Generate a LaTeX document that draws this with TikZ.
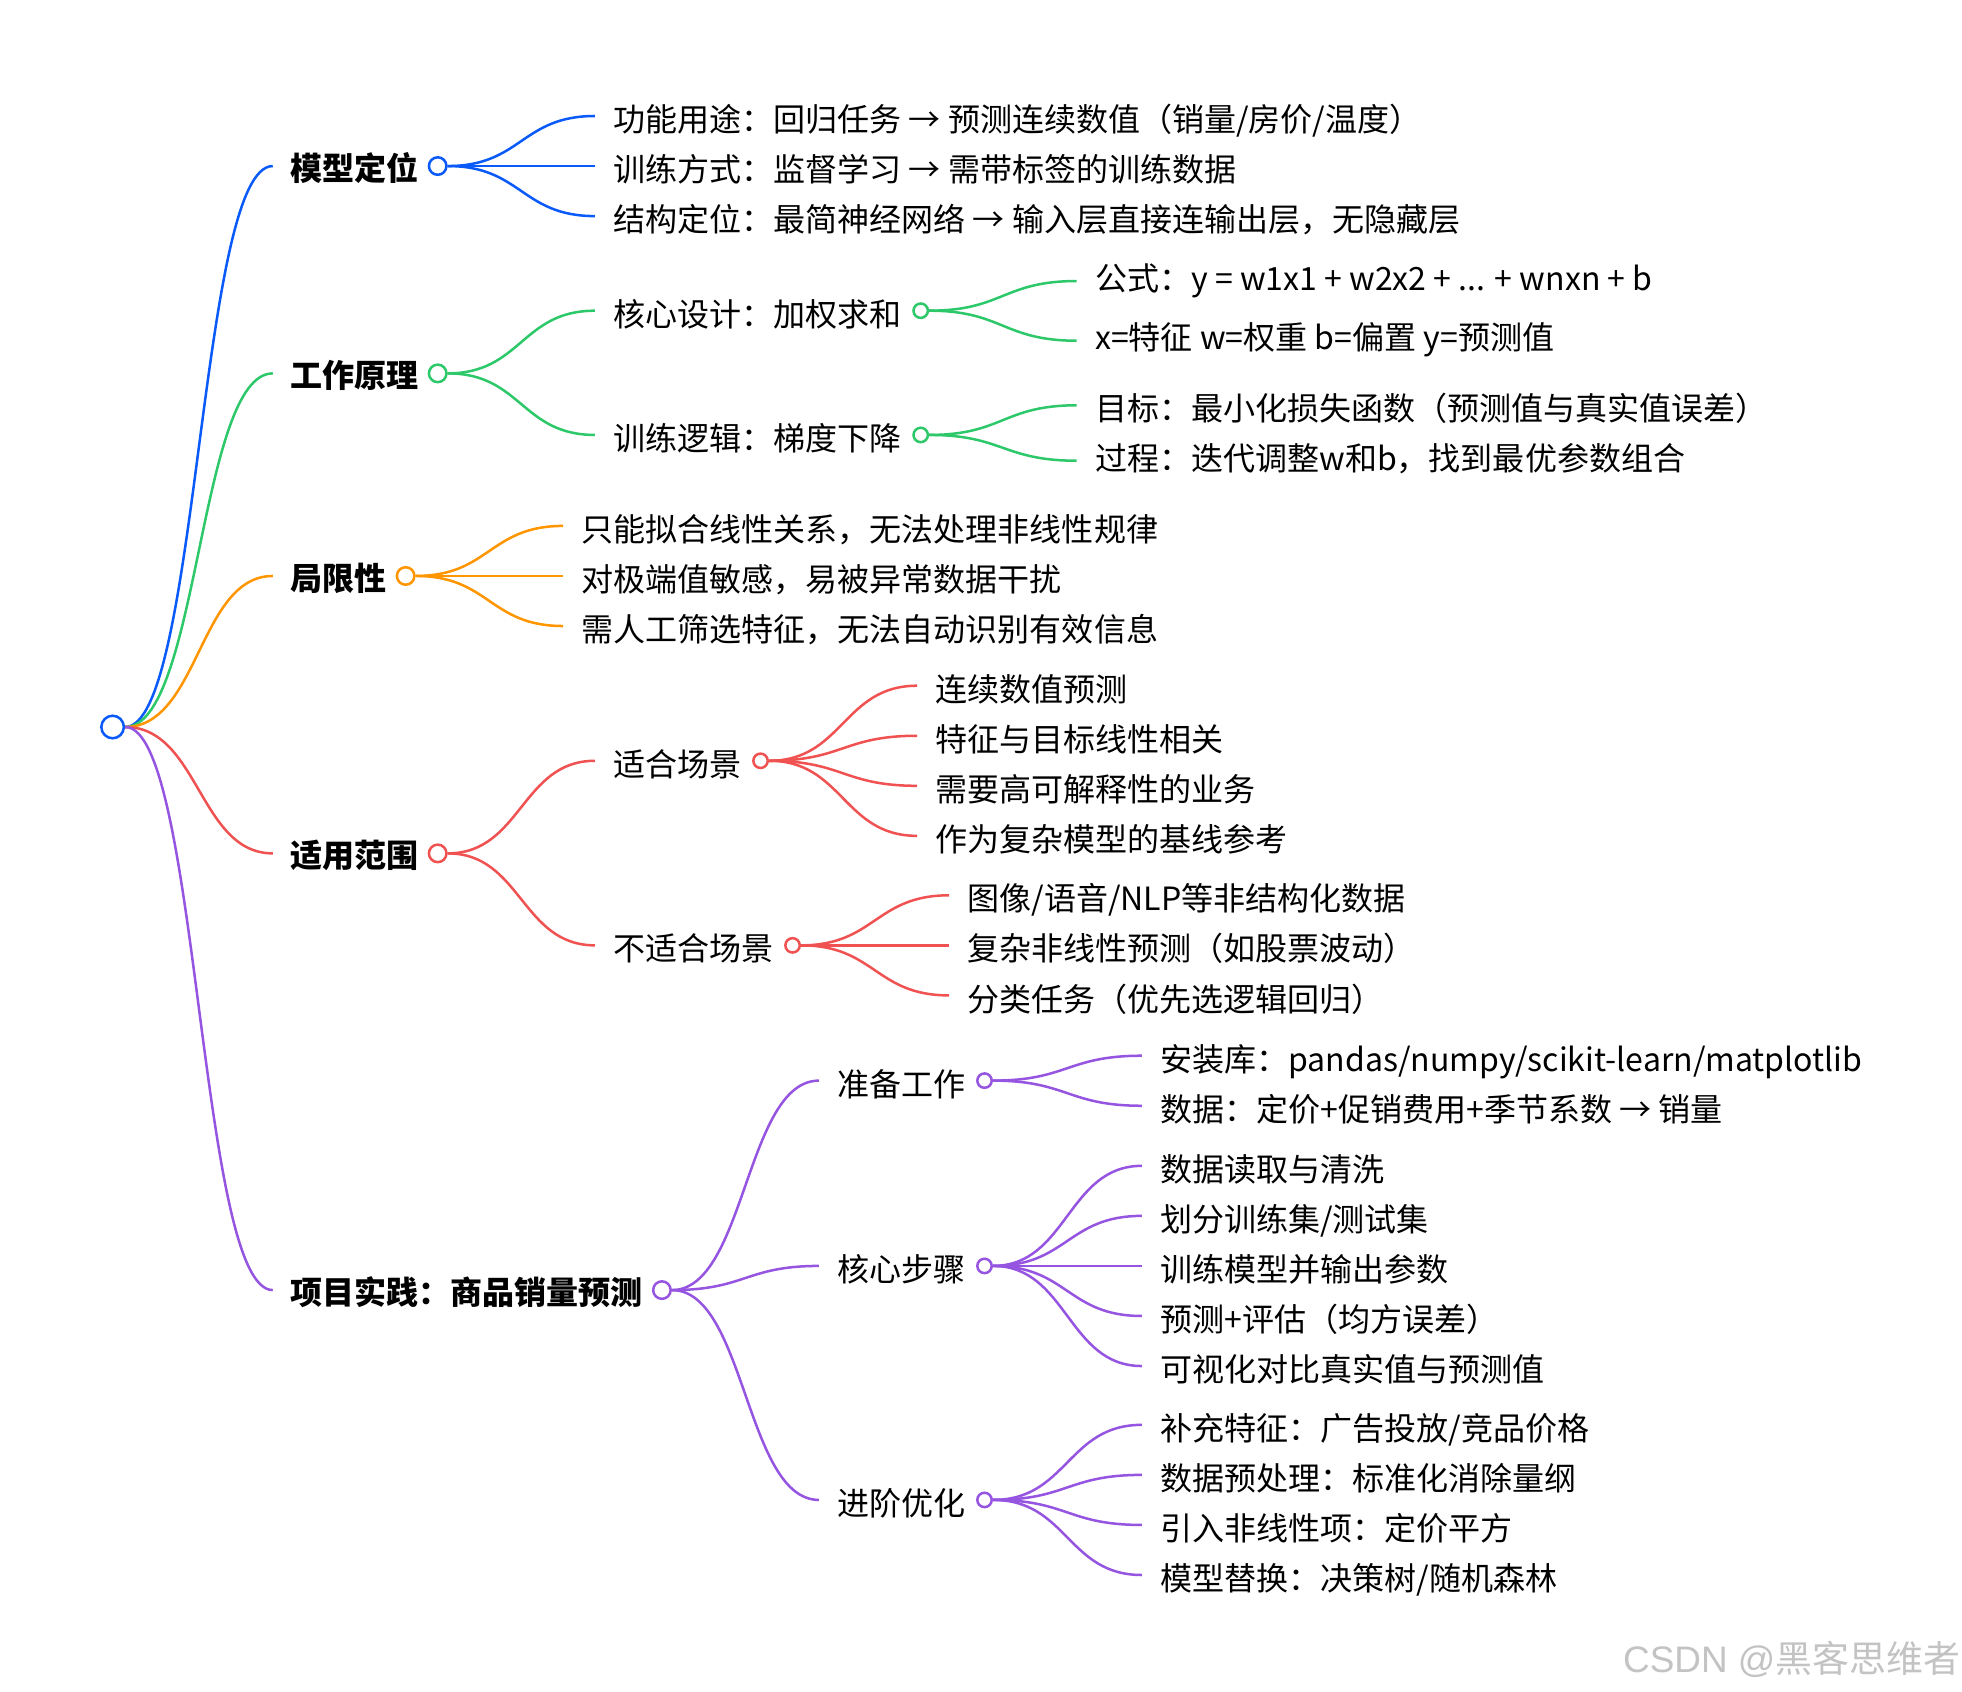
\documentclass[tikz,border=0pt]{standalone}
\usepackage{fontspec}
\setmainfont{Noto Sans CJK SC}
\newfontfamily\wmfont{Liberation Sans}
\usetikzlibrary{calc}
\definecolor{cblue}{RGB}{10,90,250}
\definecolor{cgreen}{RGB}{45,200,105}
\definecolor{corange}{RGB}{255,150,0}
\definecolor{cred}{RGB}{240,82,82}
\definecolor{cpurple}{RGB}{150,85,225}
\definecolor{wmgray}{RGB}{195,195,195}
\newcommand\mmlink[3]{\draw[linkline=#1] let \p1=(#2), \p2=(#3) in (\p1) .. controls ({(\x1+\x2)/2},\y1) and ({(\x1+\x2)/2},\y2) .. (\p2);}
\begin{document}
\begin{tikzpicture}[x=1pt,y=-1pt,
  txt/.style={anchor=west,inner sep=0pt,text height=27pt,text depth=2pt,font=\fontsize{25.6}{30}\selectfont},
  topic/.style={txt,text height=25pt,text depth=2pt,font=\fontsize{25.6}{30}\selectfont\bfseries},
  knot/.style={circle,draw=#1,fill=white,line width=2pt,minimum size=11.5pt,inner sep=0pt},
  bigknot/.style={knot=#1,minimum size=14pt},
  linkline/.style={draw=#1,line width=2pt}]
\path[use as bounding box, fill=white] (0,0) rectangle (1568,1352);

\node[knot=cblue, minimum size=18pt] (root) at (90,581) {};

% level 1
\node[topic] (m) at (232,132.7) {模型定位};
\node[bigknot=cblue] (mk) at ($(m.east)+(15,0)$) {};
\node[topic] (w) at (232,298.4) {工作原理};
\node[bigknot=cgreen] (wk) at ($(w.east)+(15,0)$) {};
\node[topic] (j) at (232,460.3) {局限性};
\node[bigknot=corange] (jk) at ($(j.east)+(15,0)$) {};
\node[topic] (s) at (232,682) {适用范围};
\node[bigknot=cred] (sk) at ($(s.east)+(15,0)$) {};
\node[topic] (p) at (232,1031) {项目实践：商品销量预测};
\node[bigknot=cpurple] (pk) at ($(p.east)+(15,0)$) {};

\mmlink{cblue}{root.east}{[xshift=-14pt]m.west}
\mmlink{cgreen}{root.east}{[xshift=-14pt]w.west}
\mmlink{corange}{root.east}{[xshift=-14pt]j.west}
\mmlink{cred}{root.east}{[xshift=-14pt]s.west}
\mmlink{cpurple}{root.east}{[xshift=-14pt]p.west}

% 模型定位
\node[txt] (m1) at (490,92.7) {功能用途：回归任务 → 预测连续数值（销量/房价/温度）};
\node[txt] (m2) at (490,132.7) {训练方式：监督学习 → 需带标签的训练数据};
\node[txt] (m3) at (490,172.7) {结构定位：最简神经网络 → 输入层直接连输出层，无隐藏层};
\foreach \q in {m1,m2,m3} {\mmlink{cblue}{mk.east}{[xshift=-14.5pt]\q.west}}

% 工作原理
\node[txt] (w1) at (490,248.3) {核心设计：加权求和};
\node[knot=cgreen] (w1k) at ($(w1.east)+(15,0)$) {};
\node[txt] (w11) at (875,219.4) {公式：y = w1x1 + w2x2 + ... + wnxn + b};
\node[txt] (w12) at (875,266.9) {x=特征 w=权重 b=偏置 y=预测值};
\node[txt] (w2) at (490,347.6) {训练逻辑：梯度下降};
\node[knot=cgreen] (w2k) at ($(w2.east)+(15,0)$) {};
\node[txt] (w21) at (875,323.3) {目标：最小化损失函数（预测值与真实值误差）};
\node[txt] (w22) at (875,363.3) {过程：迭代调整w和b，找到最优参数组合};
\foreach \q in {w1,w2} {\mmlink{cgreen}{wk.east}{[xshift=-14.5pt]\q.west}}
\mmlink{cgreen}{w1k.east}{[xshift=-14.5pt,yshift=-5.2pt]w11.west}
\mmlink{cgreen}{w1k.east}{[xshift=-14.5pt,yshift=-5.4pt]w12.west}
\mmlink{cgreen}{w2k.east}{[xshift=-14.5pt,yshift=-0.6pt]w21.west}
\mmlink{cgreen}{w2k.east}{[xshift=-14.5pt,yshift=-4.9pt]w22.west}

% 局限性
\node[txt] (j1) at (464.5,420.3) {只能拟合线性关系，无法处理非线性规律};
\node[txt] (j2) at (464.5,460.3) {对极端值敏感，易被异常数据干扰};
\node[txt] (j3) at (464.5,500.3) {需人工筛选特征，无法自动识别有效信息};
\foreach \q in {j1,j2,j3} {\mmlink{corange}{jk.east}{[xshift=-14.5pt]\q.west}}

% 适用范围
\node[txt] (s1) at (490,608) {适合场景};
\node[knot=cred] (s1k) at ($(s1.east)+(15,0)$) {};
\node[txt] (s11) at (747.5,548) {连续数值预测};
\node[txt] (s12) at (747.5,588) {特征与目标线性相关};
\node[txt] (s13) at (747.5,628) {需要高可解释性的业务};
\node[txt] (s14) at (747.5,668) {作为复杂模型的基线参考};
\node[txt] (s2) at (490,755.5) {不适合场景};
\node[knot=cred] (s2k) at ($(s2.east)+(15,0)$) {};
\node[txt] (s21) at (773,715.5) {图像/语音/NLP等非结构化数据};
\node[txt] (s22) at (773,755.5) {复杂非线性预测（如股票波动）};
\node[txt] (s23) at (773,795.5) {分类任务（优先选逻辑回归）};
\foreach \q in {s1,s2} {\mmlink{cred}{sk.east}{[xshift=-14.5pt]\q.west}}
\foreach \q in {s11,s12,s13,s14} {\mmlink{cred}{s1k.east}{[xshift=-14.5pt]\q.west}}
\foreach \q in {s21,s22,s23} {\mmlink{cred}{s2k.east}{[xshift=-14.5pt]\q.west}}

% 项目实践
\node[txt] (p1) at (669,863.6) {准备工作};
\node[knot=cpurple] (p1k) at ($(p1.east)+(15,0)$) {};
\node[txt] (p11) at (927,843.7) {安装库：pandas/numpy/scikit-learn/matplotlib};
\node[txt] (p12) at (927,883.7) {数据：定价+促销费用+季节系数 → 销量};
\node[txt] (p2) at (669,1011.7) {核心步骤};
\node[knot=cpurple] (p2k) at ($(p2.east)+(15,0)$) {};
\node[txt] (p21) at (927,931.7) {数据读取与清洗};
\node[txt] (p22) at (927,971.7) {划分训练集/测试集};
\node[txt] (p23) at (927,1011.7) {训练模型并输出参数};
\node[txt] (p24) at (927,1051.7) {预测+评估（均方误差）};
\node[txt] (p25) at (927,1091.7) {可视化对比真实值与预测值};
\node[txt] (p3) at (669,1198.7) {进阶优化};
\node[knot=cpurple] (p3k) at ($(p3.east)+(15,0)$) {};
\node[txt] (p31) at (927,1138.7) {补充特征：广告投放/竞品价格};
\node[txt] (p32) at (927,1178.7) {数据预处理：标准化消除量纲};
\node[txt] (p33) at (927,1218.7) {引入非线性项：定价平方};
\node[txt] (p34) at (927,1258.7) {模型替换：决策树/随机森林};
\foreach \q in {p1,p2,p3} {\mmlink{cpurple}{pk.east}{[xshift=-14.5pt]\q.west}}
\foreach \q in {p11,p12} {\mmlink{cpurple}{p1k.east}{[xshift=-14.5pt]\q.west}}
\foreach \q in {p21,p22,p23,p24,p25} {\mmlink{cpurple}{p2k.east}{[xshift=-14.5pt]\q.west}}
\foreach \q in {p31,p32,p33,p34} {\mmlink{cpurple}{p3k.east}{[xshift=-14.5pt]\q.west}}

% watermark
\node[anchor=west,inner sep=0pt,text=wmgray,font=\fontsize{29.5}{32}\selectfont] (wm) at (1297,1326) {{\wmfont CSDN @}黑客思维者};
\end{tikzpicture}
\end{document}
